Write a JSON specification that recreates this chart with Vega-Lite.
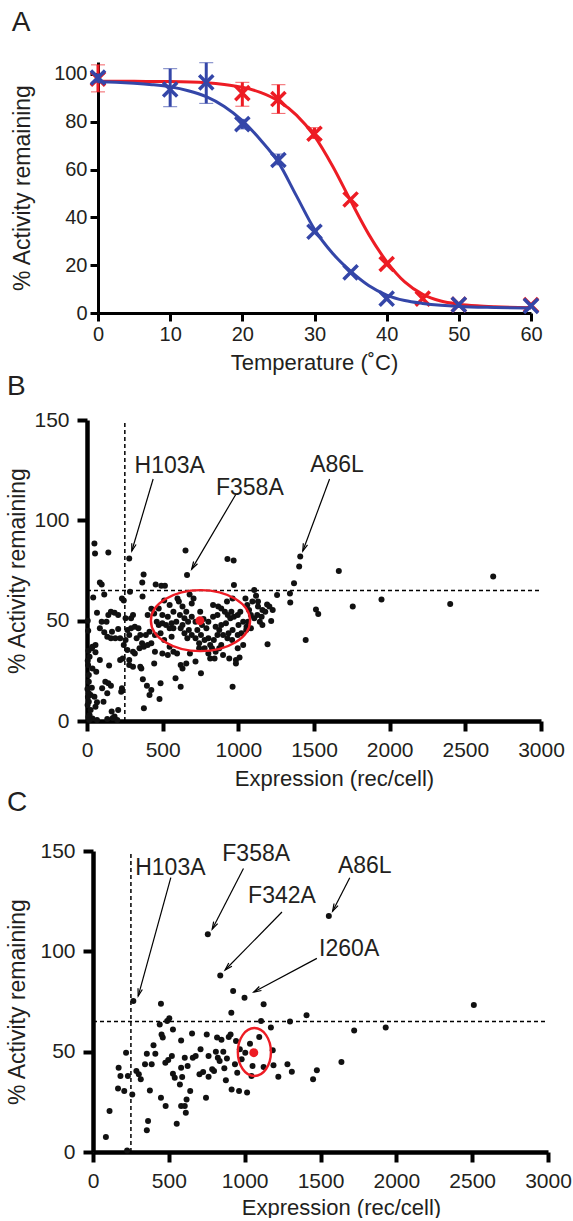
{
  "$schema": "https://vega.github.io/schema/vega-lite/v6.json",
  "background": "white",
  "padding": {"left": 6, "top": 9, "right": 0, "bottom": 0},
  "config": {
    "font": "Liberation Sans",
    "view": {"stroke": null},
    "axis": {"grid": false, "domainColor": "#000", "tickColor": "#000", "domainWidth": 3.5, "tickWidth": 3.5, "domainOpacity": 1, "tickOpacity": 1, "labelColor": "#231f20", "titleColor": "#231f20", "titleFontWeight": "normal", "labelOverlap": false, "labelFlush": false},
    "title": {"fontWeight": "normal", "fontSize": 28, "anchor": "start", "frame": "bounds", "color": "#231f20"}
  },
  "datasets": {
    "curveA": [
      {"t": 0, "act": 96.7, "series": "Variant 1"}, {"t": 2.5, "act": 96.5, "series": "Variant 1"}, {"t": 5, "act": 96.1, "series": "Variant 1"}, {"t": 7.5, "act": 95.5, "series": "Variant 1"}, {"t": 10, "act": 94.6, "series": "Variant 1"}, {"t": 12.5, "act": 93, "series": "Variant 1"}, {"t": 15, "act": 90.5, "series": "Variant 1"}, {"t": 17.5, "act": 86.4, "series": "Variant 1"}, {"t": 20, "act": 80.5, "series": "Variant 1"}, {"t": 22.5, "act": 72.5, "series": "Variant 1"}, {"t": 25, "act": 63, "series": "Variant 1"}, {"t": 27.5, "act": 49, "series": "Variant 1"}, {"t": 30, "act": 35, "series": "Variant 1"}, {"t": 32.5, "act": 25, "series": "Variant 1"}, {"t": 35, "act": 17.5, "series": "Variant 1"}, {"t": 37.5, "act": 11.5, "series": "Variant 1"}, {"t": 40, "act": 7.5, "series": "Variant 1"}, {"t": 42.5, "act": 5.2, "series": "Variant 1"}, {"t": 45, "act": 4, "series": "Variant 1"}, {"t": 47.5, "act": 3.2, "series": "Variant 1"}, {"t": 50, "act": 2.7, "series": "Variant 1"}, {"t": 55, "act": 2.3, "series": "Variant 1"}, {"t": 60, "act": 2.1, "series": "Variant 1"},
      {"t": 0, "act": 97, "series": "Variant 2"}, {"t": 5, "act": 96.9, "series": "Variant 2"}, {"t": 10, "act": 96.8, "series": "Variant 2"}, {"t": 15, "act": 96.3, "series": "Variant 2"}, {"t": 17.5, "act": 95.6, "series": "Variant 2"}, {"t": 20, "act": 94.4, "series": "Variant 2"}, {"t": 22.5, "act": 92.3, "series": "Variant 2"}, {"t": 25, "act": 88.7, "series": "Variant 2"}, {"t": 27.5, "act": 82.8, "series": "Variant 2"}, {"t": 30, "act": 74, "series": "Variant 2"}, {"t": 32.5, "act": 61.5, "series": "Variant 2"}, {"t": 35, "act": 47, "series": "Variant 2"}, {"t": 37.5, "act": 33, "series": "Variant 2"}, {"t": 40, "act": 21.5, "series": "Variant 2"}, {"t": 42.5, "act": 13, "series": "Variant 2"}, {"t": 45, "act": 7.8, "series": "Variant 2"}, {"t": 47.5, "act": 5, "series": "Variant 2"}, {"t": 50, "act": 3.7, "series": "Variant 2"}, {"t": 52.5, "act": 3, "series": "Variant 2"}, {"t": 55, "act": 2.6, "series": "Variant 2"}, {"t": 60, "act": 2.2, "series": "Variant 2"}
    ],
    "markA": [
      {"t": 0, "act": 98.5, "series": "Variant 1"}, {"t": 10, "act": 93.5, "series": "Variant 1"}, {"t": 15, "act": 96.5, "series": "Variant 1"}, {"t": 20, "act": 79, "series": "Variant 1"}, {"t": 25, "act": 64, "series": "Variant 1"}, {"t": 30, "act": 34, "series": "Variant 1"}, {"t": 35, "act": 17, "series": "Variant 1"}, {"t": 40, "act": 6, "series": "Variant 1"}, {"t": 50, "act": 3.5, "series": "Variant 1"}, {"t": 60, "act": 3, "series": "Variant 1"},
      {"t": 0, "act": 98, "series": "Variant 2"}, {"t": 20, "act": 92, "series": "Variant 2"}, {"t": 25, "act": 89.5, "series": "Variant 2"}, {"t": 30, "act": 75, "series": "Variant 2"}, {"t": 35, "act": 47.5, "series": "Variant 2"}, {"t": 40, "act": 20.5, "series": "Variant 2"}, {"t": 45, "act": 6, "series": "Variant 2"}, {"t": 50, "act": 3.5, "series": "Variant 2"}, {"t": 60, "act": 3.3, "series": "Variant 2"}
    ],
    "errA": [
      {"t": 0, "lo": 96.5, "hi": 100, "series": "Variant 1"}, {"t": 10, "lo": 86.3, "hi": 102.2, "series": "Variant 1"}, {"t": 15, "lo": 87.7, "hi": 104.7, "series": "Variant 1"}, {"t": 20, "lo": 77, "hi": 81, "series": "Variant 1"}, {"t": 25, "lo": 62, "hi": 66.5, "series": "Variant 1"},
      {"t": 0, "lo": 92.5, "hi": 103.8, "series": "Variant 2"}, {"t": 20, "lo": 86.5, "hi": 96.5, "series": "Variant 2"}, {"t": 25, "lo": 83.5, "hi": 95.5, "series": "Variant 2"}, {"t": 30, "lo": 73, "hi": 77.5, "series": "Variant 2"}
    ],
    "ptsB": [
      {"expr": 49, "act": 88.5}, {"expr": 53, "act": 83.5}, {"expr": 141, "act": 84}, {"expr": 279, "act": 81}, {"expr": 651, "act": 85}, {"expr": 661, "act": 72.8}, {"expr": 928, "act": 80.7}, {"expr": 969, "act": 80}, {"expr": 1409, "act": 82}, {"expr": 1402, "act": 77}, {"expr": 1664, "act": 74.7}, {"expr": 2684, "act": 72}, {"expr": 1368, "act": 68.6}, {"expr": 971, "act": 67.8}, {"expr": 374, "act": 73}, {"expr": 365, "act": 69}, {"expr": 85, "act": 69}, {"expr": 97, "act": 68}, {"expr": 454, "act": 68}, {"expr": 491, "act": 67.4}, {"expr": 515, "act": 67.4}, {"expr": 284, "act": 64.4}, {"expr": 114, "act": 63}, {"expr": 41, "act": 61.5}, {"expr": 243, "act": 60}, {"expr": 367, "act": 62}, {"expr": 510, "act": 60}, {"expr": 598, "act": 61}, {"expr": 678, "act": 63}, {"expr": 704, "act": 61}, {"expr": 1105, "act": 65.3}, {"expr": 1117, "act": 62.4}, {"expr": 1256, "act": 62.8}, {"expr": 1341, "act": 63.5}, {"expr": 1343, "act": 59}, {"expr": 1513, "act": 55.6}, {"expr": 1528, "act": 53.3}, {"expr": 1756, "act": 57}, {"expr": 1946, "act": 60.6}, {"expr": 2400, "act": 58.3}, {"expr": 1445, "act": 40.4}, {"expr": 1193, "act": 38.2}, {"expr": 1190, "act": 58}, {"expr": 1227, "act": 55.3}, {"expr": 1217, "act": 49.8}, {"expr": 1142, "act": 49.5}, {"expr": 1159, "act": 47.8}, {"expr": 1125, "act": 52.8}, {"expr": 1093, "act": 59.5}, {"expr": 1159, "act": 55.3}, {"expr": 1178, "act": 54.5},
      {"expr": 66, "act": 54}, {"expr": 97, "act": 49.5}, {"expr": 129, "act": 49.5}, {"expr": 141, "act": 52.8}, {"expr": 158, "act": 54.5}, {"expr": 182, "act": 54}, {"expr": 165, "act": 44.5}, {"expr": 134, "act": 42}, {"expr": 158, "act": 41.2}, {"expr": 187, "act": 41.2}, {"expr": 206, "act": 45.8}, {"expr": 114, "act": 44.2}, {"expr": 85, "act": 46.2}, {"expr": 56, "act": 37.9}, {"expr": 36, "act": 37}, {"expr": 85, "act": 30.4}, {"expr": 146, "act": 27.6}, {"expr": 219, "act": 30.4}, {"expr": 236, "act": 31.2}, {"expr": 61, "act": 24.6}, {"expr": 12, "act": 22.9}, {"expr": 7, "act": 27.9}, {"expr": 17, "act": 32}, {"expr": 32, "act": 36.2}, {"expr": 12, "act": 19.6}, {"expr": 121, "act": 19.6}, {"expr": 141, "act": 18.8}, {"expr": 100, "act": 16.3}, {"expr": 134, "act": 13.8}, {"expr": 158, "act": 17.6}, {"expr": 231, "act": 16.3}, {"expr": 226, "act": 14.6}, {"expr": 49, "act": 12.1}, {"expr": 24, "act": 12.9}, {"expr": 66, "act": 9.3}, {"expr": 109, "act": 9.6}, {"expr": 56, "act": 7.1}, {"expr": 24, "act": 5.5}, {"expr": 17, "act": 3}, {"expr": 36, "act": 1.3}, {"expr": 163, "act": 4.7}, {"expr": 206, "act": 5.5}, {"expr": 182, "act": 2.2}, {"expr": 134, "act": 1}, {"expr": 66, "act": 0.5}, {"expr": 12, "act": 9.6}, {"expr": 32, "act": 16.6}, {"expr": 12, "act": 13.8}, {"expr": 56, "act": 34.2}, {"expr": 36, "act": 26.2},
      {"expr": 267, "act": 45.3}, {"expr": 291, "act": 46.2}, {"expr": 279, "act": 42.9}, {"expr": 255, "act": 40.4}, {"expr": 304, "act": 52.8}, {"expr": 291, "act": 51.2}, {"expr": 279, "act": 27.9}, {"expr": 304, "act": 27}, {"expr": 316, "act": 33.7}, {"expr": 279, "act": 30.4}, {"expr": 364, "act": 38.7}, {"expr": 376, "act": 37}, {"expr": 401, "act": 37.9}, {"expr": 425, "act": 38.7}, {"expr": 389, "act": 42.9}, {"expr": 413, "act": 44.5}, {"expr": 449, "act": 42.9}, {"expr": 474, "act": 47.8}, {"expr": 486, "act": 43.7}, {"expr": 510, "act": 40.4}, {"expr": 401, "act": 52.8}, {"expr": 425, "act": 56}, {"expr": 359, "act": 26.2}, {"expr": 369, "act": 20.8}, {"expr": 396, "act": 17.6}, {"expr": 425, "act": 15.4}, {"expr": 413, "act": 12.9}, {"expr": 376, "act": 6.3}, {"expr": 486, "act": 18.8}, {"expr": 479, "act": 11}, {"expr": 444, "act": 28.7}, {"expr": 449, "act": 34.5}, {"expr": 498, "act": 33.7}, {"expr": 534, "act": 32.9}, {"expr": 546, "act": 37}, {"expr": 571, "act": 34.5}, {"expr": 595, "act": 33.7}, {"expr": 585, "act": 21.3}, {"expr": 619, "act": 17.1}, {"expr": 619, "act": 27.9}, {"expr": 631, "act": 26.2}, {"expr": 656, "act": 28.7}, {"expr": 717, "act": 29.6}, {"expr": 753, "act": 23.8}, {"expr": 741, "act": 36.2}, {"expr": 680, "act": 33.7}, {"expr": 559, "act": 42}, {"expr": 571, "act": 46.2}, {"expr": 590, "act": 49.5}, {"expr": 614, "act": 52.8}, {"expr": 631, "act": 47.8}, {"expr": 644, "act": 43.7}, {"expr": 663, "act": 41.2}, {"expr": 673, "act": 45.3}, {"expr": 692, "act": 42.9}, {"expr": 717, "act": 41.2}, {"expr": 741, "act": 38.7}, {"expr": 753, "act": 42.9}, {"expr": 777, "act": 36.2}, {"expr": 802, "act": 33.7}, {"expr": 826, "act": 36.2}, {"expr": 850, "act": 34.5}, {"expr": 789, "act": 46.2}, {"expr": 760, "act": 47.8}, {"expr": 770, "act": 50.8}, {"expr": 802, "act": 49.5}, {"expr": 833, "act": 52}, {"expr": 862, "act": 52.8}, {"expr": 833, "act": 57.8}, {"expr": 867, "act": 57}, {"expr": 887, "act": 56.1}, {"expr": 911, "act": 54.5}, {"expr": 930, "act": 52.8}, {"expr": 954, "act": 54.5}, {"expr": 947, "act": 51.2}, {"expr": 971, "act": 52}, {"expr": 996, "act": 52.8}, {"expr": 1013, "act": 54.5}, {"expr": 1032, "act": 49.5}, {"expr": 1001, "act": 47.8}, {"expr": 962, "act": 45.3}, {"expr": 935, "act": 43.7}, {"expr": 899, "act": 42.9}, {"expr": 874, "act": 45.3}, {"expr": 850, "act": 47}, {"expr": 887, "act": 47.8}, {"expr": 918, "act": 48.7}, {"expr": 928, "act": 41.2}, {"expr": 959, "act": 40.4}, {"expr": 996, "act": 42.9}, {"expr": 1020, "act": 43.7}, {"expr": 1052, "act": 45.3}, {"expr": 862, "act": 42.9}, {"expr": 838, "act": 40.4}, {"expr": 814, "act": 37.9}, {"expr": 887, "act": 37.9}, {"expr": 996, "act": 36.2}, {"expr": 940, "act": 31.2}, {"expr": 984, "act": 30.4}, {"expr": 1008, "act": 31.6}, {"expr": 962, "act": 17.1}, {"expr": 692, "act": 58.6}, {"expr": 656, "act": 54.5}, {"expr": 631, "act": 57}, {"expr": 607, "act": 59.5}, {"expr": 571, "act": 54.5}, {"expr": 546, "act": 57.8}, {"expr": 498, "act": 52.8}, {"expr": 522, "act": 47.8}, {"expr": 546, "act": 46.2}, {"expr": 748, "act": 54.5}, {"expr": 717, "act": 49.5}, {"expr": 692, "act": 52}, {"expr": 668, "act": 49.5}, {"expr": 644, "act": 51.2}, {"expr": 619, "act": 46.2}, {"expr": 729, "act": 45.3}, {"expr": 777, "act": 40.4}, {"expr": 802, "act": 41.2}, {"expr": 925, "act": 59.5}, {"expr": 962, "act": 61.1}, {"expr": 1047, "act": 61.1}, {"expr": 1059, "act": 57.8}, {"expr": 1071, "act": 55.3}, {"expr": 1083, "act": 52.8}, {"expr": 1064, "act": 49.5}, {"expr": 1054, "act": 47}, {"expr": 1083, "act": 46.2}, {"expr": 1105, "act": 51.2}, {"expr": 1154, "act": 52}, {"expr": 1205, "act": 57}, {"expr": 1130, "act": 57}, {"expr": 1130, "act": 59.5}, {"expr": 1032, "act": 37.9}, {"expr": 899, "act": 32.9}, {"expr": 843, "act": 31.2}, {"expr": 814, "act": 31.2}, {"expr": 874, "act": 36.2}, {"expr": 984, "act": 28.7},
      {"expr": 206, "act": 52.8}, {"expr": 231, "act": 61.1}, {"expr": 255, "act": 51.2}, {"expr": 219, "act": 41.2}, {"expr": 243, "act": 37.9}, {"expr": 316, "act": 47}, {"expr": 340, "act": 46.2}, {"expr": 352, "act": 42.9}, {"expr": 328, "act": 41.2}, {"expr": 347, "act": 36.2}, {"expr": 304, "act": 34.5}, {"expr": 267, "act": 35.4}, {"expr": 474, "act": 56.1}, {"expr": 444, "act": 53.6}, {"expr": 461, "act": 49.5}, {"expr": 498, "act": 48.7}, {"expr": 534, "act": 52}, {"expr": 559, "act": 48.7}, {"expr": 352, "act": 27},
      {"expr": 5, "act": 50}, {"expr": 8, "act": 45}, {"expr": 5, "act": 30}, {"expr": 10, "act": 35}, {"expr": 3, "act": 16}, {"expr": 6, "act": 12}, {"expr": 4, "act": 8}, {"expr": 10, "act": 2}, {"expr": 15, "act": 0.5}, {"expr": 200, "act": 0.5}, {"expr": 170, "act": 1.5}
    ],
    "ptsC": [
      {"expr": 85, "act": 7.5}, {"expr": 109, "act": 20.4}, {"expr": 225, "act": 0.8}, {"expr": 218, "act": 49.5}, {"expr": 169, "act": 42}, {"expr": 181, "act": 37.9}, {"expr": 165, "act": 31.7}, {"expr": 206, "act": 30.4}, {"expr": 230, "act": 37.9}, {"expr": 259, "act": 28.7}, {"expr": 266, "act": 75.2}, {"expr": 286, "act": 40.4}, {"expr": 302, "act": 38.7}, {"expr": 315, "act": 36.2}, {"expr": 343, "act": 43.7}, {"expr": 355, "act": 49}, {"expr": 375, "act": 30.7}, {"expr": 363, "act": 15.4}, {"expr": 355, "act": 10.8}, {"expr": 387, "act": 43.7}, {"expr": 399, "act": 53.2}, {"expr": 411, "act": 49}, {"expr": 448, "act": 73.9}, {"expr": 440, "act": 63.6}, {"expr": 452, "act": 58.6}, {"expr": 460, "act": 57}, {"expr": 448, "act": 27}, {"expr": 479, "act": 22.9}, {"expr": 477, "act": 44.5}, {"expr": 496, "act": 45.8}, {"expr": 503, "act": 66.6}, {"expr": 489, "act": 65.3}, {"expr": 527, "act": 61.1}, {"expr": 520, "act": 47.8}, {"expr": 527, "act": 39}, {"expr": 539, "act": 37}, {"expr": 552, "act": 14.1}, {"expr": 573, "act": 33.7}, {"expr": 581, "act": 22.9}, {"expr": 581, "act": 42}, {"expr": 588, "act": 37.4}, {"expr": 581, "act": 55.6}, {"expr": 605, "act": 47}, {"expr": 617, "act": 26.2}, {"expr": 612, "act": 19.6}, {"expr": 605, "act": 22.9}, {"expr": 624, "act": 42.9}, {"expr": 641, "act": 30.4}, {"expr": 653, "act": 59}, {"expr": 658, "act": 47}, {"expr": 677, "act": 47.8}, {"expr": 702, "act": 38.7}, {"expr": 709, "act": 51.2}, {"expr": 726, "act": 39.9}, {"expr": 745, "act": 27}, {"expr": 750, "act": 58.6}, {"expr": 757, "act": 108.5}, {"expr": 762, "act": 47.8}, {"expr": 762, "act": 37.5}, {"expr": 786, "act": 41.2}, {"expr": 798, "act": 40.4}, {"expr": 810, "act": 50}, {"expr": 818, "act": 57}, {"expr": 823, "act": 47}, {"expr": 839, "act": 88}, {"expr": 835, "act": 45.3}, {"expr": 847, "act": 56}, {"expr": 859, "act": 50}, {"expr": 866, "act": 41.7}, {"expr": 876, "act": 35.7}, {"expr": 883, "act": 46.6}, {"expr": 895, "act": 57.3}, {"expr": 907, "act": 58.6}, {"expr": 912, "act": 69.4}, {"expr": 914, "act": 31.2}, {"expr": 924, "act": 80.2}, {"expr": 936, "act": 43.7}, {"expr": 943, "act": 55.3}, {"expr": 951, "act": 39.5}, {"expr": 963, "act": 30.4}, {"expr": 968, "act": 51.2}, {"expr": 980, "act": 46.2}, {"expr": 999, "act": 76.9}, {"expr": 1004, "act": 49.5}, {"expr": 1016, "act": 29.6}, {"expr": 1035, "act": 54}, {"expr": 1052, "act": 42.9}, {"expr": 1045, "act": 37.9}, {"expr": 1096, "act": 57.3}, {"expr": 1108, "act": 65.3}, {"expr": 1125, "act": 73.6}, {"expr": 1125, "act": 42.4}, {"expr": 1173, "act": 62}, {"expr": 1185, "act": 50.7}, {"expr": 1190, "act": 43.2}, {"expr": 1222, "act": 37.5}, {"expr": 1282, "act": 43.7}, {"expr": 1299, "act": 65}, {"expr": 1311, "act": 40}, {"expr": 1408, "act": 68.1}, {"expr": 1451, "act": 36.2}, {"expr": 1476, "act": 40.7}, {"expr": 1555, "act": 117.6}, {"expr": 1638, "act": 44.8}, {"expr": 1722, "act": 60.6}, {"expr": 1930, "act": 62}, {"expr": 2511, "act": 73.2}
    ],
    "refLines": [
      {"x": 250, "y": 0, "x2": 250, "y2": 150},
      {"x": 0, "y": 65, "x2": 3000, "y2": 65}
    ],
    "annB": [
      {"label": "H103A", "lx": 547, "ly": 127, "x": 437, "y": 120.6, "x2": 296, "y2": 84.7},
      {"label": "F358A", "lx": 1076, "ly": 116.3, "x": 984, "y": 113, "x2": 692, "y2": 75.7},
      {"label": "A86L", "lx": 1652, "ly": 127.6, "x": 1603, "y": 120.6, "x2": 1426, "y2": 84.7}
    ],
    "annC": [
      {"label": "H103A", "lx": 510, "ly": 141.7, "x": 513, "y": 136.7, "x2": 298, "y2": 77.7},
      {"label": "F358A", "lx": 1076, "ly": 148.3, "x": 992, "y": 141.3, "x2": 786, "y2": 111},
      {"label": "F342A", "lx": 1246, "ly": 127.7, "x": 1246, "y": 119.6, "x2": 871, "y2": 90.7},
      {"label": "A86L", "lx": 1792, "ly": 142.5, "x": 1693, "y": 136.7, "x2": 1580, "y2": 120},
      {"label": "I260A", "lx": 1689, "ly": 101, "x": 1476, "y": 96.5, "x2": 1060, "y2": 79.7}
    ],
    "centerB": [{"expr": 750, "act": 50}],
    "dotB": [{"expr": 746, "act": 50}],
    "centerC": [{"expr": 1064, "act": 49.8}],
    "dotC": [{"expr": 1060, "act": 49.5}]
  },
  "concat": [
    {
      "title": {"text": "A", "offset": 24},
      "width": 444,
      "height": 251,
      "layer": [
        {
          "data": {"name": "errA"},
          "transform": [{"filter": "datum.series === 'Variant 2'"}],
          "mark": {"type": "errorbar", "ticks": {"size": 14, "strokeWidth": 3, "color": "#ED1C24"}, "rule": {"strokeWidth": 3, "color": "#ED1C24"}},
          "encoding": {
            "x": {"field": "t", "type": "quantitative", "title": "Temperature (˚C)", "scale": {"domain": [0, 60], "nice": false, "range": [11, 444]},
              "axis": {"values": [0, 10, 20, 30, 40, 50, 60], "tickSize": 8, "tickWidth": 3, "domainWidth": 3, "labelFontSize": 20, "titleFontSize": 22, "labelPadding": 3, "titlePadding": 8, "format": "d", "titleX": 227}},
            "y": {"field": "lo", "type": "quantitative", "title": "% Activity remaining", "scale": {"domain": [0, 105], "nice": false},
              "axis": {"values": [0, 20, 40, 60, 80, 100], "tickSize": 8, "tickWidth": 3, "domainWidth": 3, "labelFontSize": 20, "titleFontSize": 23, "labelPadding": 3, "titlePadding": 19, "offset": -11}},
            "y2": {"field": "hi"}
          }
        },
        {
          "data": {"name": "curveA"},
          "transform": [{"filter": "datum.series === 'Variant 2'"}],
          "mark": {"type": "line", "color": "#ED1C24", "strokeWidth": 3, "interpolate": "monotone"},
          "encoding": {
            "x": {"field": "t", "type": "quantitative", "title": "Temperature (˚C)"},
            "y": {"field": "act", "type": "quantitative", "title": "% Activity remaining"}
          }
        },
        {
          "data": {"name": "markA"},
          "transform": [{"filter": "datum.series === 'Variant 2'"}],
          "mark": {"type": "point", "shape": "M-1,-1L1,1M-1,1L1,-1", "filled": false, "color": "#ED1C24", "strokeWidth": 3.5, "size": 200, "opacity": 1},
          "encoding": {
            "x": {"field": "t", "type": "quantitative", "title": "Temperature (˚C)"},
            "y": {"field": "act", "type": "quantitative", "title": "% Activity remaining"}
          }
        },
        {
          "data": {"name": "errA"},
          "transform": [{"filter": "datum.series === 'Variant 1'"}],
          "mark": {"type": "errorbar", "ticks": {"size": 14, "strokeWidth": 3, "color": "#3446A8"}, "rule": {"strokeWidth": 3, "color": "#3446A8"}},
          "encoding": {
            "x": {"field": "t", "type": "quantitative", "title": "Temperature (˚C)"},
            "y": {"field": "lo", "type": "quantitative", "title": "% Activity remaining"},
            "y2": {"field": "hi"}
          }
        },
        {
          "data": {"name": "curveA"},
          "transform": [{"filter": "datum.series === 'Variant 1'"}],
          "mark": {"type": "line", "color": "#3446A8", "strokeWidth": 3, "interpolate": "monotone"},
          "encoding": {
            "x": {"field": "t", "type": "quantitative", "title": "Temperature (˚C)"},
            "y": {"field": "act", "type": "quantitative", "title": "% Activity remaining"}
          }
        },
        {
          "data": {"name": "markA"},
          "transform": [{"filter": "datum.series === 'Variant 1'"}],
          "mark": {"type": "point", "shape": "M-1,-1L1,1M-1,1L1,-1", "filled": false, "color": "#3446A8", "strokeWidth": 3.5, "size": 200, "opacity": 1},
          "encoding": {
            "x": {"field": "t", "type": "quantitative", "title": "Temperature (˚C)"},
            "y": {"field": "act", "type": "quantitative", "title": "% Activity remaining"}
          }
        }
      ]
    },
    {
      "title": {"text": "B", "offset": 8},
      "width": 454,
      "height": 301,
      "encoding": {
        "x": {"type": "quantitative", "title": "Expression (rec/cell)", "scale": {"domain": [0, 3000], "nice": false},
          "axis": {"values": [0, 500, 1000, 1500, 2000, 2500, 3000], "tickSize": 10, "tickWidth": 4, "domainWidth": 4.5, "labelFontSize": 21, "titleFontSize": 22, "labelPadding": 8, "titlePadding": 8, "format": "d", "titleX": 247}},
        "y": {"type": "quantitative", "title": "% Activity remaining", "scale": {"domain": [0, 150], "nice": false},
          "axis": {"values": [0, 50, 100, 150], "tickSize": 10, "tickWidth": 4, "domainWidth": 4.5, "labelFontSize": 21, "titleFontSize": 23, "labelPadding": 8, "titlePadding": 4}}
      },
      "layer": [
        {
          "data": {"name": "refLines"},
          "mark": {"type": "rule", "color": "#000", "strokeWidth": 1.5, "strokeDash": [4, 3]},
          "encoding": {"x": {"field": "x"}, "y": {"field": "y"}, "x2": {"field": "x2"}, "y2": {"field": "y2"}}
        },
        {
          "data": {"name": "ptsB"},
          "mark": {"type": "circle", "color": "#111", "size": 36, "opacity": 1},
          "encoding": {"x": {"field": "expr"}, "y": {"field": "act"}}
        },
        {
          "data": {"name": "centerB"},
          "mark": {"type": "point", "shape": "M1,0C1,0.34 0.552,0.615 0,0.615C-0.552,0.615 -1,0.34 -1,0C-1,-0.34 -0.552,-0.615 0,-0.615C0.552,-0.615 1,-0.34 1,0Z", "filled": false, "color": "#ED1C24", "strokeWidth": 2.4, "size": 9840, "opacity": 1},
          "encoding": {"x": {"field": "expr"}, "y": {"field": "act"}}
        },
        {
          "data": {"name": "dotB"},
          "mark": {"type": "circle", "color": "#ED1C24", "size": 80, "opacity": 1},
          "encoding": {"x": {"field": "expr"}, "y": {"field": "act"}}
        },
        {
          "data": {"name": "annB"},
          "mark": {"type": "rule", "color": "#000", "strokeWidth": 1.2},
          "encoding": {"x": {"field": "x"}, "y": {"field": "y"}, "x2": {"field": "x2"}, "y2": {"field": "y2"}}
        },
        {
          "data": {"name": "annB"},
          "transform": [{"calculate": "atan2((datum.x2 - datum.x) * 454 / 3000, (datum.y2 - datum.y) * 301 / 150) * 180 / PI", "as": "ang"}],
          "mark": {"type": "point", "shape": "M-0.45,1.5L0,0L0.45,1.5", "filled": false, "color": "#000", "strokeWidth": 1.2, "size": 100, "opacity": 1},
          "encoding": {"x": {"field": "x2"}, "y": {"field": "y2"}, "angle": {"field": "ang", "type": "quantitative", "scale": null}}
        },
        {
          "data": {"name": "annB"},
          "mark": {"type": "text", "fontSize": 23, "color": "#231f20", "align": "center", "baseline": "middle"},
          "encoding": {"x": {"field": "lx"}, "y": {"field": "ly"}, "text": {"field": "label"}}
        }
      ]
    },
    {
      "title": {"text": "C", "offset": 23},
      "width": 461,
      "height": 301,
      "encoding": {
        "x": {"type": "quantitative", "title": "Expression (rec/cell)", "scale": {"domain": [0, 3000], "nice": false, "range": [6, 461]},
          "axis": {"values": [0, 500, 1000, 1500, 2000, 2500, 3000], "tickSize": 10, "tickWidth": 4, "domainWidth": 4.5, "labelFontSize": 21, "titleFontSize": 22, "labelPadding": 8, "titlePadding": 6, "format": "d", "titleX": 254}},
        "y": {"type": "quantitative", "title": "% Activity remaining", "scale": {"domain": [0, 150], "nice": false},
          "axis": {"values": [0, 50, 100, 150], "tickSize": 10, "tickWidth": 4, "domainWidth": 4.5, "labelFontSize": 21, "titleFontSize": 23, "labelPadding": 8, "titlePadding": 10, "offset": -6}}
      },
      "layer": [
        {
          "data": {"name": "refLines"},
          "mark": {"type": "rule", "color": "#000", "strokeWidth": 1.5, "strokeDash": [4, 3]},
          "encoding": {"x": {"field": "x"}, "y": {"field": "y"}, "x2": {"field": "x2"}, "y2": {"field": "y2"}}
        },
        {
          "data": {"name": "ptsC"},
          "mark": {"type": "circle", "color": "#111", "size": 36, "opacity": 1},
          "encoding": {"x": {"field": "expr"}, "y": {"field": "act"}}
        },
        {
          "data": {"name": "centerC"},
          "mark": {"type": "point", "shape": "M0.69,0C0.69,0.552 0.381,1 0,1C-0.381,1 -0.69,0.552 -0.69,0C-0.69,-0.552 -0.381,-1 0,-1C0.381,-1 0.69,-0.552 0.69,0Z", "filled": false, "color": "#ED1C24", "strokeWidth": 2.4, "size": 2304, "opacity": 1},
          "encoding": {"x": {"field": "expr"}, "y": {"field": "act"}}
        },
        {
          "data": {"name": "dotC"},
          "mark": {"type": "circle", "color": "#ED1C24", "size": 80, "opacity": 1},
          "encoding": {"x": {"field": "expr"}, "y": {"field": "act"}}
        },
        {
          "data": {"name": "annC"},
          "mark": {"type": "rule", "color": "#000", "strokeWidth": 1.2},
          "encoding": {"x": {"field": "x"}, "y": {"field": "y"}, "x2": {"field": "x2"}, "y2": {"field": "y2"}}
        },
        {
          "data": {"name": "annC"},
          "transform": [{"calculate": "atan2((datum.x2 - datum.x) * 455 / 3000, (datum.y2 - datum.y) * 301 / 150) * 180 / PI", "as": "ang"}],
          "mark": {"type": "point", "shape": "M-0.45,1.5L0,0L0.45,1.5", "filled": false, "color": "#000", "strokeWidth": 1.2, "size": 100, "opacity": 1},
          "encoding": {"x": {"field": "x2"}, "y": {"field": "y2"}, "angle": {"field": "ang", "type": "quantitative", "scale": null}}
        },
        {
          "data": {"name": "annC"},
          "mark": {"type": "text", "fontSize": 23, "color": "#231f20", "align": "center", "baseline": "middle"},
          "encoding": {"x": {"field": "lx"}, "y": {"field": "ly"}, "text": {"field": "label"}}
        }
      ]
    }
  ],
  "columns": 1,
  "align": "none",
  "spacing": 0
}
